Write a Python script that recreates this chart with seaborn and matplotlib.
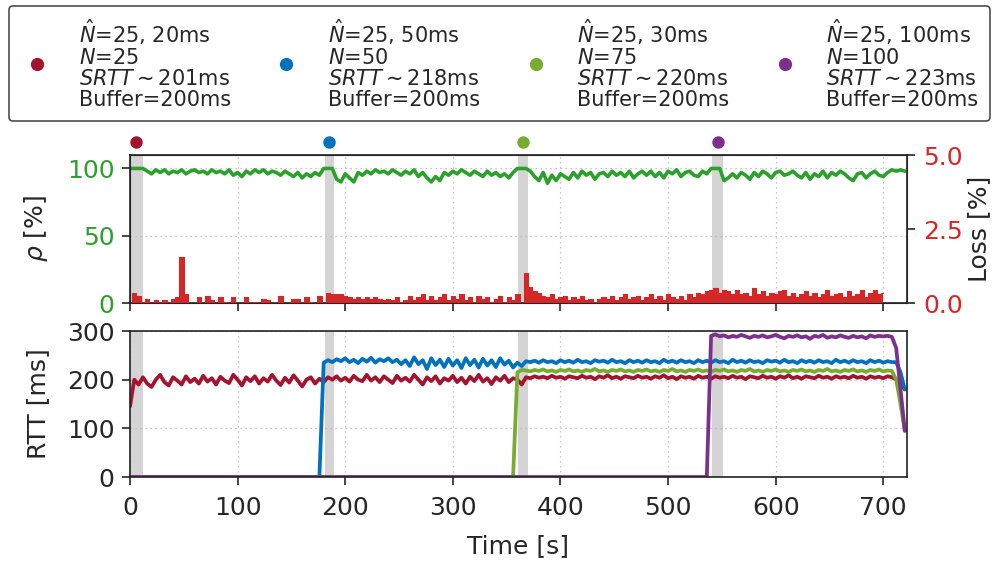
import numpy as np
import pandas as pd
import seaborn as sns
import matplotlib.pyplot as plt
from matplotlib.lines import Line2D
import matplotlib.transforms as mtransforms

# sample step of the traces [s]
step = 4

# flow start markers / gray start-up windows
flow_marks = [6, 185, 365, 546]
flow_spans = [(0, 12), (181, 190), (361, 370), (541, 551)]

flow_names = ["f1", "f2", "f3", "f4"]
flow_colors = ["#A2142F", "#0072BD", "#77AC30", "#7E2F8E"]
legend_labels = [
    "$\\hat{N}$=25, 20ms\n$N$=25\n$SRTT\\sim$201ms\nBuffer=200ms",
    "$\\hat{N}$=25, 50ms\n$N$=50\n$SRTT\\sim$218ms\nBuffer=200ms",
    "$\\hat{N}$=25, 30ms\n$N$=75\n$SRTT\\sim$220ms\nBuffer=200ms",
    "$\\hat{N}$=25, 100ms\n$N$=100\n$SRTT\\sim$223ms\nBuffer=200ms",
]

# link utilization [%]
util = [
    100, 100, 100, 100, 98, 96, 99, 97, 99, 96,
    98, 97, 99, 96, 98, 99, 97, 98, 96, 99,
    97, 98, 96, 99, 95, 97, 94, 98, 96, 99,
    97, 99, 96, 98, 97, 95, 98, 96, 94, 97,
    93, 96, 94, 97, 95, 100, 100, 100, 92, 90,
    96, 93, 90, 97, 95, 98, 96, 99, 97, 98,
    96, 99, 97, 95, 98, 96, 99, 94, 97, 93,
    90, 94, 91, 97, 95, 98, 96, 99, 97, 95,
    98, 96, 94, 98, 95, 97, 94, 96, 93, 97,
    100, 100, 100, 98, 94, 91, 97, 89, 95, 91,
    96, 94, 92, 97, 93, 98, 95, 97, 92, 96,
    97, 94, 98, 95, 97, 94, 98, 93, 96, 98,
    95, 98, 94, 97, 93, 98, 96, 99, 94, 97,
    98, 95, 94, 98, 96, 100, 100, 100, 91, 93,
    96, 93, 97, 95, 92, 97, 94, 98, 96, 93,
    97, 98, 95, 96, 98, 95, 93, 97, 92, 96,
    94, 98, 93, 97, 95, 98, 96, 93, 91, 96,
    97, 93, 96, 98, 95, 94, 97, 99, 98, 99,
    98,
]

# packet loss [%]
loss = [
    0, 0.35, 0.25, 0.05, 0.15, 0, 0.1, 0, 0.1, 0,
    0.15, 0.2, 1.55, 0.3, 0, 0, 0.2, 0, 0.25, 0.1,
    0, 0.2, 0.05, 0, 0.2, 0, 0, 0.2, 0, 0.05,
    0, 0.15, 0.1, 0, 0, 0.25, 0, 0, 0.15, 0.15,
    0, 0.2, 0.05, 0, 0.25, 0, 0.35, 0.3, 0.3, 0.3,
    0.25, 0.2, 0.15, 0.2, 0.15, 0.2, 0.15, 0.2, 0.15, 0.1,
    0.15, 0.1, 0.2, 0.05, 0.1, 0.25, 0.1, 0.2, 0.3, 0.1,
    0.25, 0.1, 0.2, 0.3, 0.1, 0.25, 0.15, 0.3, 0.1, 0.2,
    0.05, 0.25, 0.15, 0.2, 0.05, 0.15, 0.25, 0.05, 0.2, 0.1,
    0.3, 0, 1.0, 0.55, 0.4, 0.35, 0.25, 0.2, 0.3, 0.15,
    0.2, 0.25, 0.1, 0.2, 0.15, 0.25, 0.1, 0.15, 0.05, 0.15,
    0.2, 0.15, 0.25, 0.1, 0.2, 0.3, 0.15, 0.2, 0.25, 0.1,
    0.2, 0.3, 0.15, 0.25, 0.1, 0.3, 0.2, 0.15, 0.25, 0.1,
    0.3, 0.2, 0.35, 0.3, 0.4, 0.45, 0.5, 0.35, 0.45, 0.4,
    0.3, 0.45, 0.3, 0.35, 0.25, 0.5, 0.3, 0.4, 0.25, 0.35,
    0.3, 0.4, 0.45, 0.25, 0.35, 0.2, 0.3, 0.4, 0.25, 0.35,
    0.2, 0.3, 0.45, 0.25, 0.3, 0.35, 0.2, 0.4, 0.25, 0.3,
    0.45, 0.2, 0.35, 0.45, 0.3, 0.35,
]

# RTT per flow [ms]
rtt_f1 = [
    145, 200, 190, 205, 192, 185, 200, 210, 195, 188,
    205, 198, 190, 207, 195, 202, 192, 208, 196, 203,
    190, 206, 198, 193, 210, 200, 188, 205, 197, 207,
    192, 203, 196, 210, 198, 189, 204, 194, 209, 198,
    186, 200, 205, 192, 202, 195, 205, 200, 207, 198,
    204, 196, 208, 200, 197, 210, 198, 205, 195, 207,
    200, 193, 208, 198, 204, 196, 210, 200, 190, 205,
    197, 207, 192, 203, 198, 208, 195, 204, 192, 206,
    197, 210, 196, 203, 191, 205, 198, 208, 195, 203,
    200, 190, 205, 203, 207, 204, 206, 203, 208, 204,
    206, 202, 207, 205, 203, 208, 204, 206, 201, 207,
    204, 209, 203, 206, 202, 207, 205, 203, 208, 204,
    206, 202, 207, 204, 209, 203, 206, 201, 207, 204,
    206, 202, 208, 204, 206, 202, 207, 204, 206, 203,
    208, 204, 206, 201, 207, 205, 203, 208, 204, 206,
    202, 207, 204, 209, 203, 206, 202, 207, 205, 203,
    208, 204, 206, 202, 207, 204, 206, 203, 208, 204,
    206, 202, 207, 204, 206, 203, 207, 205, 200, 190,
    180,
]
rtt_f2 = [0] * 45 + [
    235, 240, 236, 242, 238, 244, 236, 241, 234, 243,
    237, 245, 235, 242, 238, 244, 236, 241, 232, 240,
    228, 246, 232, 240, 222, 244, 230, 241, 226, 243,
    229, 240, 224, 244, 230, 241, 225, 243, 229, 240,
    226, 244, 231, 239, 225, 235, 228, 238, 236, 239,
    235, 240, 236, 238, 234, 240, 236, 239, 235, 241,
    236, 238, 234, 240, 237, 239, 235, 241, 236, 238,
    234, 240, 236, 239, 235, 240, 236, 238, 234, 241,
    236, 239, 235, 240, 236, 238, 234, 240, 236, 239,
    235, 240, 236, 238, 234, 241, 236, 239, 235, 240,
    236, 238, 234, 240, 237, 239, 235, 241, 236, 238,
    234, 240, 236, 239, 235, 240, 236, 238, 234, 241,
    236, 239, 235, 240, 236, 238, 234, 240, 236, 239,
    235, 238, 236, 236, 215, 180,
]
rtt_f3 = [0] * 90 + [
    215, 220, 219, 217, 220, 218, 221, 217, 219, 216,
    220, 218, 221, 217, 219, 216, 220, 218, 222, 217,
    219, 216, 220, 218, 221, 217, 219, 216, 220, 218,
    221, 217, 219, 216, 220, 218, 222, 217, 219, 216,
    220, 218, 221, 217, 219, 216, 220, 218, 221, 217,
    219, 216, 220, 218, 222, 217, 219, 216, 220, 218,
    221, 217, 219, 216, 220, 218, 221, 217, 219, 216,
    220, 218, 222, 217, 219, 216, 220, 218, 221, 217,
    219, 216, 220, 218, 221, 217, 219, 218, 200, 150,
    95,
]
rtt_f4 = [0] * 135 + [
    290, 293, 289, 291, 287, 290, 288, 292, 289, 286,
    290, 288, 291, 287, 289, 292, 288, 285, 290, 288,
    291, 287, 289, 284, 290, 288, 292, 286, 289, 287,
    291, 288, 286, 290, 287, 289, 285, 291, 288, 290,
    289, 290, 288, 265, 180, 95,
]

top_df = pd.DataFrame({"t": np.arange(len(util)) * step, "util": util})
loss_t = np.arange(len(loss)) * step

rtt_frames = []
for name, vals in zip(flow_names, [rtt_f1, rtt_f2, rtt_f3, rtt_f4]):
    rtt_frames.append(pd.DataFrame({"t": np.arange(len(vals)) * step,
                                    "rtt": vals, "flow": name}))
rtt_df = pd.concat(rtt_frames, ignore_index=True)

sns.set_style("ticks")
plt.rcParams["font.family"] = ["DejaVu Sans"]
plt.rcParams["mathtext.fontset"] = "dejavusans"

fig = plt.figure(figsize=(9.96, 5.67), dpi=100)
ax1 = fig.add_axes([0.1305, 0.4656, 0.7801, 0.261])
ax2 = fig.add_axes([0.1305, 0.1587, 0.7801, 0.2575])

util_green = "#2ca02c"
loss_red = "#d62728"
fs = 18

for ax in (ax1, ax2):
    for a, b in flow_spans:
        ax.axvspan(a, b, color="#d4d4d4", lw=0, zorder=0)
    ax.set_xlim(0, 722)
    ax.set_xticks(range(0, 701, 100))
    ax.grid(True, linestyle=(0, (1, 3)), color="#b5b5b5", lw=0.9)
    ax.set_axisbelow(True)
    for s in ax.spines.values():
        s.set_color("#222222")
        s.set_linewidth(1.2)
    ax.tick_params(labelsize=fs, direction="out", length=6, width=1.2, pad=5)

# top: utilization + loss
sns.lineplot(data=top_df, x="t", y="util", color=util_green, lw=2.6, ax=ax1)
ax1.set_ylim(0, 110)
ax1.set_yticks([0, 50, 100])
ax1.tick_params(axis="y", labelcolor=util_green)
ax1.set_xticklabels([])
ax1.set_xlabel("")
ax1.set_ylabel(r"$\rho$ [%]", fontsize=fs, labelpad=12)

ax1r = ax1.twinx()
ax1r.fill_between(loss_t, loss, step="mid", color=loss_red, lw=0)
sns.lineplot(x=loss_t, y=loss, drawstyle="steps-mid", color=loss_red, lw=0.8, ax=ax1r)
ax1r.set_ylim(0, 5)
ax1r.set_yticks([0, 2.5, 5.0])
ax1r.set_yticklabels(["0.0", "2.5", "5.0"])
ax1r.tick_params(axis="y", labelcolor=loss_red, labelsize=fs, length=6, width=1.2, pad=6)
ax1r.set_ylabel("Loss [%]", fontsize=fs, labelpad=3)
ax1r.set_xlim(0, 722)

# flow start dots above the top panel
trans = mtransforms.blended_transform_factory(ax1.transData, ax1.transAxes)
for x, c in zip(flow_marks, flow_colors):
    ax1.scatter([x], [1.09], s=80, color=c, transform=trans, clip_on=False, zorder=5, lw=0)

# bottom: RTT
sns.lineplot(data=rtt_df, x="t", y="rtt", hue="flow", palette=flow_colors,
             lw=2.7, legend=False, ax=ax2)
ax2.set_ylim(0, 300)
ax2.set_yticks([0, 100, 200, 300])
ax2.set_ylabel("RTT [ms]", fontsize=fs, labelpad=12)
ax2.set_xlabel("Time [s]", fontsize=fs, labelpad=10)
ax2.tick_params(axis="x", pad=8)

handles = [Line2D([], [], marker="o", ls="", color=c, markersize=8.5) for c in flow_colors]
leg = fig.legend(handles, legend_labels, ncol=4, loc="upper left",
                 bbox_to_anchor=(0.009, 0.783, 0.985, 0.206), mode="expand",
                 borderaxespad=0, fontsize=15, frameon=True, edgecolor="#222222",
                 fancybox=True, handletextpad=1.2, borderpad=0.55,
                 handlelength=1.6, labelspacing=0.2)
leg.get_frame().set_linewidth(1.2)
for txt in leg.get_texts():
    txt.set_linespacing(1.05)

fig.savefig("out.png", dpi=100)
